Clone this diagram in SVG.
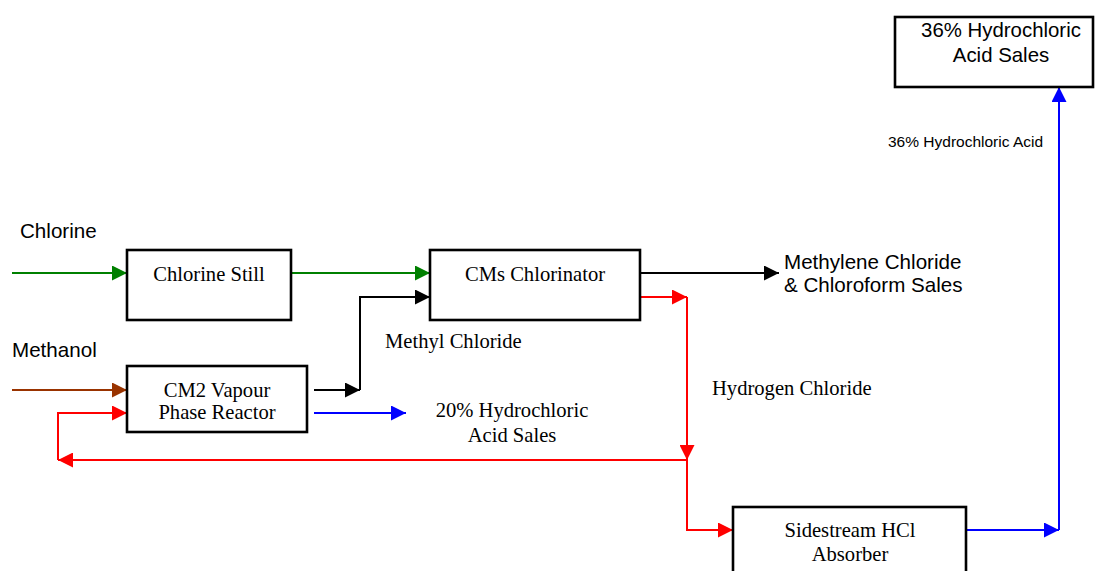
<svg xmlns="http://www.w3.org/2000/svg" width="1095" height="571" viewBox="0 0 1095 571">
<style>
.box{fill:#fff;stroke:#000;stroke-width:2.6}
.serif{font-family:"Liberation Serif","Times New Roman",serif;font-size:20.6px;fill:#000}
.sans{font-family:"Liberation Sans",Arial,sans-serif;font-size:20.6px;fill:#000}
.mid{text-anchor:middle}
.ln{fill:none;stroke-width:2}
.g{stroke:#008000}.k{stroke:#000}.r{stroke:#ff0000}.b{stroke:#0000ff}.br{stroke:#993300}
</style>
<defs>
<marker id="ag" markerUnits="userSpaceOnUse" markerWidth="15" markerHeight="15" refX="15" refY="7.5" orient="auto"><path d="M0,0L15,7.5L0,15z" fill="#008000"/></marker>
<marker id="ak" markerUnits="userSpaceOnUse" markerWidth="15" markerHeight="15" refX="15" refY="7.5" orient="auto"><path d="M0,0L15,7.5L0,15z" fill="#000"/></marker>
<marker id="ar" markerUnits="userSpaceOnUse" markerWidth="15" markerHeight="15" refX="15" refY="7.5" orient="auto"><path d="M0,0L15,7.5L0,15z" fill="#ff0000"/></marker>
<marker id="ab" markerUnits="userSpaceOnUse" markerWidth="15" markerHeight="15" refX="15" refY="7.5" orient="auto"><path d="M0,0L15,7.5L0,15z" fill="#0000ff"/></marker>
<marker id="abr" markerUnits="userSpaceOnUse" markerWidth="15" markerHeight="15" refX="15" refY="7.5" orient="auto"><path d="M0,0L15,7.5L0,15z" fill="#993300"/></marker>
</defs>
<rect width="1095" height="571" fill="#fff"/>
<g id="connectors">
<path class="ln g" d="M12,273H127" marker-end="url(#ag)"/>
<path class="ln g" d="M291,273H430" marker-end="url(#ag)"/>
<path class="ln br" d="M12,390H127" marker-end="url(#abr)"/>
<path class="ln k" d="M314,390H360" marker-end="url(#ak)"/>
<path class="ln k" d="M360,390V297H430" marker-end="url(#ak)"/>
<path class="ln b" d="M314,413H406" marker-end="url(#ab)"/>
<path class="ln k" d="M640,273H779" marker-end="url(#ak)"/>
<path class="ln r" d="M640,297H687" marker-end="url(#ar)"/>
<path class="ln r" d="M687,297V460" marker-end="url(#ar)"/>
<path class="ln r" d="M687,460V530H733" marker-end="url(#ar)"/>
<path class="ln r" d="M687,460H58" marker-end="url(#ar)"/>
<path class="ln r" d="M58,460V413H127" marker-end="url(#ar)"/>
<path class="ln b" d="M966,530H1059" marker-end="url(#ab)"/>
<path class="ln b" d="M1059,530V87" marker-end="url(#ab)"/>
</g>
<g id="chlorine-still">
<rect class="box" x="127" y="250" width="164" height="70"/>
<text class="serif mid" x="209" y="281">Chlorine Still</text>
</g>
<g id="cm2-reactor">
<rect class="box" x="127" y="366" width="180" height="66"/>
<text class="serif mid" x="217" y="397">CM2 Vapour</text>
<text class="serif mid" x="217" y="419">Phase Reactor</text>
</g>
<g id="cms-chlorinator">
<rect class="box" x="430" y="250" width="210" height="70"/>
<text class="serif mid" x="535" y="281">CMs Chlorinator</text>
</g>
<g id="absorber">
<rect class="box" x="733" y="507" width="233" height="80"/>
<text class="serif mid" x="850" y="537">Sidestream HCl</text>
<text class="serif mid" x="850" y="561">Absorber</text>
</g>
<g id="hcl36-sales">
<rect class="box" x="895" y="17" width="198" height="70"/>
<text class="sans mid" x="1001" y="37" style="font-size:20.4px">36% Hydrochloric</text>
<text class="sans mid" x="1001" y="62" style="font-size:20.4px">Acid Sales</text>
</g>
<g id="labels">
<text class="sans" x="20" y="238">Chlorine</text>
<text class="sans" x="12" y="357">Methanol</text>
<text class="serif" x="385" y="348">Methyl Chloride</text>
<text class="serif mid" x="512" y="417">20% Hydrochloric</text>
<text class="serif mid" x="512" y="442">Acid Sales</text>
<text class="sans" x="784" y="269">Methylene Chloride</text>
<text class="sans" x="784" y="292">&amp; Chloroform Sales</text>
<text class="serif" x="712" y="395">Hydrogen Chloride</text>
<text class="sans" x="888" y="147" style="font-size:15.5px">36% Hydrochloric Acid</text>
</g>
</svg>
